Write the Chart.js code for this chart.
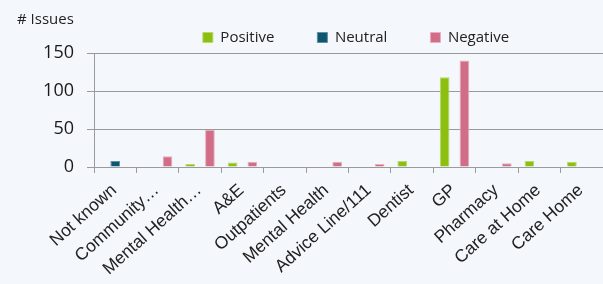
<!DOCTYPE html>
<html>
<head>
<meta charset="utf-8">
<script src="https://cdn.jsdelivr.net/npm/chart.js@4"></script>
<style>
  html, body { margin: 0; padding: 0; background: #F4F7FB; }
  #wrap { width: 603px; height: 284px; position: relative; }
</style>
</head>
<body>
<div id="wrap"><canvas id="chart"></canvas></div>
<script>
const categories = ['Not known', 'Community…', 'Mental Health…', 'A&E', 'Outpatients', 'Mental Health',
                    'Advice Line/111', 'Dentist', 'GP', 'Pharmacy', 'Care at Home', 'Care Home'];
const positive = [0, 0, 4, 6, 0, 0, 0, 8, 118, 0, 8, 7];
const neutral  = [8, 0, 0, 0, 0, 0, 0, 0, 0, 0, 0, 0];
const negative = [0, 14, 49, 7, 0, 7, 4, 0, 140, 5, 0, 0];
const yTicks   = [0, 50, 100, 150];

const GRID = '#9a9a9a';
const SANS = '"Open Sans", sans-serif';
const LEGEND_GAP = 43;

// the legend items are spread wide apart; keep that spacing horizontal only
// (grow the box upwards so nothing is clipped) and slide the row over the plot
const legendShift = {
  id: 'legendShift',
  afterLayout(chart) {
    const lg = chart.legend;
    if (!lg) return;
    const dx = 46, dy = LEGEND_GAP - 1;
    lg.left += dx;
    lg.right += dx;
    lg.top -= dy;
    lg.height += dy;
  }
};

new Chart(document.getElementById('chart').getContext('2d'), {
  type: 'bar',
  data: {
    labels: categories,
    datasets: [
      { label: 'Positive', data: positive, backgroundColor: '#8CBF10', borderColor: '#B5DA6A', borderWidth: 1 },
      { label: 'Neutral',  data: neutral,  backgroundColor: '#0E5670', borderColor: '#5E8FA2', borderWidth: 1 },
      { label: 'Negative', data: negative, backgroundColor: '#D16D86', borderColor: '#E8AFBD', borderWidth: 1 },
    ],
  },
  options: {
    responsive: true,
    maintainAspectRatio: false,
    animation: false,
    layout: { padding: { left: 17, right: 0, top: 0, bottom: 0 } },
    datasets: { bar: { categoryPercentage: 0.7, barPercentage: 0.98 } },
    plugins: {
      title: {
        display: true,
        text: '# Issues',
        align: 'start',
        color: '#222',
        font: { family: SANS, size: 15, weight: 'normal' },
        padding: { top: 11, bottom: 0 },
      },
      legend: {
        position: 'top',
        maxHeight: 24,
        labels: {
          boxWidth: 10,
          boxHeight: 10,
          padding: LEGEND_GAP,
          color: '#222',
          font: { family: SANS, size: 15 },
        },
      },
      tooltip: { enabled: false },
    },
    scales: {
      x: {
        afterFit(scale) { scale.height = 117; },
        grid: { offset: true, drawOnChartArea: false, drawTicks: true, tickLength: 6, color: GRID },
        border: { color: GRID, width: 1 },
        ticks: {
          minRotation: 42, maxRotation: 42, autoSkip: false, padding: 7, labelOffset: -1,
          color: '#222',
          font: { family: '"Liberation Sans", Arial, sans-serif', size: 17.5 },
        },
      },
      y: {
        min: 0,
        max: 150,
        afterBuildTicks(scale) { scale.ticks = yTicks.map(v => ({ value: v })); },
        afterFit(scale) { scale.width = 77; },
        grid: { color: GRID, lineWidth: 1, drawTicks: true, tickLength: 7 },
        border: { color: GRID, width: 1 },
        ticks: { padding: 13, color: '#1a1a1a', font: { family: SANS, size: 18 } },
      },
    },
  },
  plugins: [legendShift],
});
</script>
</body>
</html>
